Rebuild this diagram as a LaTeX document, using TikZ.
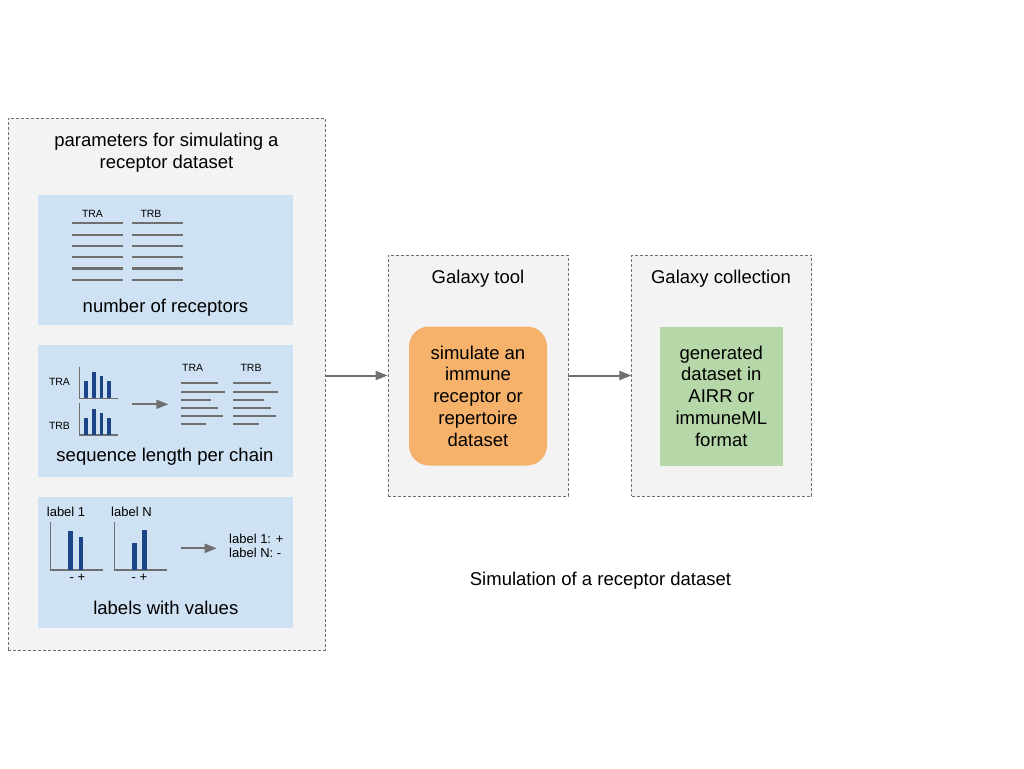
\documentclass[tikz,border=0pt]{standalone}
\usepackage{fontspec}
\setmainfont{Liberation Sans}
\usetikzlibrary{arrows.meta, positioning}
\definecolor{grpgray}{HTML}{F3F3F3}
\definecolor{edgegray}{HTML}{6F6F6F}
\definecolor{panblue}{HTML}{CFE2F3}
\definecolor{barblue}{HTML}{1C4587}
\definecolor{simorange}{HTML}{F6B26B}
\definecolor{gengreen}{HTML}{B6D7A8}

\begin{document}
\begin{tikzpicture}[x=1pt, y=-1pt,
        grp/.style={draw=edgegray, fill=grpgray, dash pattern=on 3pt off 2pt, line width=0.8pt, inner sep=0},
        pan/.style={fill=panblue, minimum width=255pt, inner sep=0},
        bigtext/.style={font=\fontsize{18.5}{21.7}\selectfont, align=center, inner sep=0},
        smalltext/.style={font=\fontsize{10.5}{12}\selectfont, inner sep=0},
        midtext/.style={font=\fontsize{13}{14.4}\selectfont, inner sep=0},
        ln/.style={draw=edgegray, line width=2.1pt},
        ax/.style={draw=edgegray, line width=1.2pt},
        e/.style={-{Triangle[length=12pt, width=9pt]}, draw=edgegray, line width=2pt}]
        \useasboundingbox (0,0) rectangle (1024,768);

        % parameters
        \draw node[grp, minimum width=317pt, minimum height=532pt] (params) at (166.5,384) {};
        \draw node[bigtext] (ptitle) at (166.5,153) {parameters for simulating a\\receptor dataset};
        \draw node[pan, minimum height=130pt] (pnum) at (165.5,260) {};
        \draw node[pan, minimum height=132pt] (plen) at (165.5,411) {};
        \draw node[pan, minimum height=131pt] (plab) at (165.5,562.5) {};

        % number of receptors
        \draw node[smalltext, anchor=base] (tra1) at (92.5,217.3) {TRA} node[smalltext, anchor=base] (trb1) at (151,217.3) {TRB};
        \foreach \y in {223.3, 234.6, 245.9, 257.2, 268.5, 279.8}
        \draw[ln] (72.3,\y) -- (123.3,\y) (132.3,\y) -- (183.3,\y);
        \draw node[bigtext, anchor=base] (nrec) at (165.5,312.7) {number of receptors};

        % sequence length
        \draw node[smalltext, anchor=base] (tra2) at (59.5,385) {TRA} node[smalltext, anchor=base] (trb2) at (59.5,429.3) {TRB};
        \foreach \yb in {398.3, 435}{
        \draw[ax] (79.3,\yb-31.6) -- (79.3,\yb) -- (118.3,\yb);
        \foreach \x/\h in {84/17.5, 91.8/26.2, 99.5/22.2, 107.2/17.3}
        \fill[barblue] (\x,\yb) rectangle ++(3.8,-\h);
        }
        \coordinate (la0) at (132.3,404.3);
        \coordinate (la1) at (168.3,404.3);
        \draw[e] (la0) -- (la1);
        \draw node[smalltext, anchor=base] (tra3) at (192.7,371.7) {TRA} node[smalltext, anchor=base] (trb3) at (251,371.7) {TRB};
        \foreach \y/\a/\b in {383.3/218/270.7, 391.6/225/278.3, 400/211/264.3, 408/218/270.7, 416.2/223/276, 424.3/206/259.3}
        \draw[ln] (181,\y) -- (\a,\y) (232.7,\y) -- (\b,\y);
        \draw node[bigtext, anchor=base] (slen) at (165,461.3) {sequence length per chain};

        % labels
        \draw node[midtext, anchor=base west] (lb1) at (46.7,516) {label 1} node[midtext, anchor=base west] (lbn) at (111,516) {label N};
        \foreach \xa in {50.7, 114.7}
        \draw[ax] (\xa,521.7) -- (\xa,570) -- (\xa+52,570);
        \foreach \x/\top in {68.3/530.7, 78.7/536.7, 132/542.7, 142.3/530}
        \fill[barblue] (\x,570) rectangle (\x+4.6,\top);
        \draw node[midtext, anchor=base] (pm1) at (77.5,581.7) {- +} node[midtext, anchor=base] (pmn) at (139.5,581.7) {- +};
        \coordinate (lc0) at (180.7,548.3);
        \coordinate (lc1) at (216.7,548.3);
        \draw[e] (lc0) -- (lc1);
        \draw node[midtext, anchor=base west] (v1) at (229,543.3) {label 1: +} node[midtext, anchor=base west] (vn) at (229,557.7) {label N: -};
        \draw node[bigtext, anchor=base] (lval) at (165.8,614) {labels with values};

        % galaxy
        \draw node[grp, minimum width=180pt, minimum height=241pt] (tool) at (478,375.5) {};
        \draw node[grp, minimum width=180pt, minimum height=241pt, right=63pt of tool] (coll) {};
        \draw node[bigtext, anchor=base] (ttool) at (478,283) {Galaxy tool};
        \draw node[bigtext, anchor=base] (tcoll) at (721,283) {Galaxy collection};
        \draw node[bigtext, fill=simorange, rounded corners=20pt, minimum width=138pt, minimum height=139pt] (sim) at (478,396) {simulate an\\immune\\receptor or\\repertoire\\dataset};
        \draw node[bigtext, fill=gengreen, minimum width=122.7pt, minimum height=139pt] (gen) at (721.3,396) {generated\\dataset in\\AIRR or\\immuneML\\format};
        \draw[e] (params.east |- tool.west) -- (tool.west);
        \draw[e] (tool.east) -- (coll.west);

        \draw node[bigtext, anchor=base] (cap) at (600.5,585.7) {Simulation of a receptor dataset};
      \end{tikzpicture}
\end{document}
